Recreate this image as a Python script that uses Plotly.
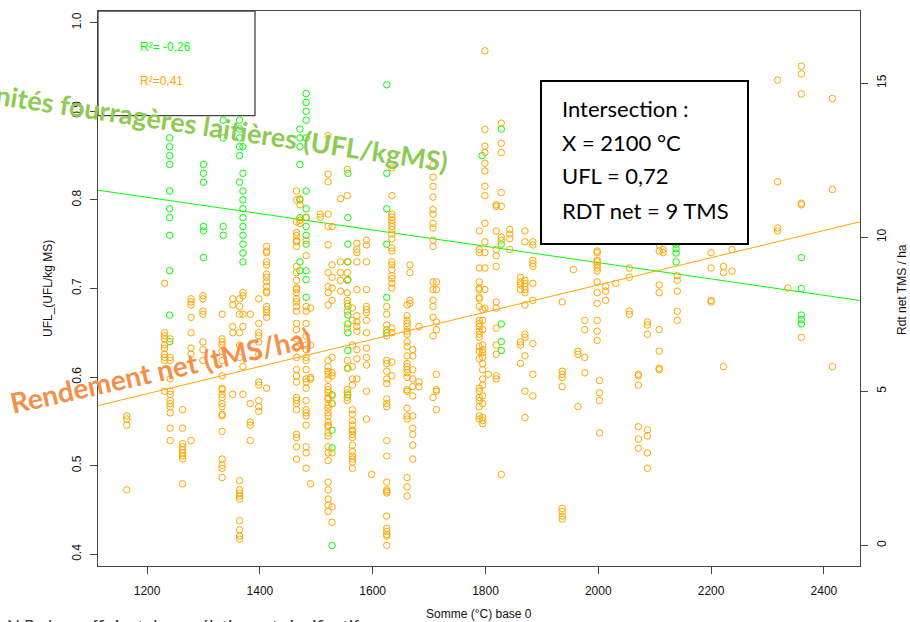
import plotly.graph_objects as go

# ---------------- DATA ----------------
# UFL (left axis, green): temperature-sum groups and the UFL values read in each group
ufl_x_groups = [1240, 1300, 1335, 1364, 1370, 1471, 1482, 1528, 1556, 1625, 1794, 1828, 2138, 2360]
ufl_groups = [
    [0.87, 0.86, 0.85, 0.84, 0.81, 0.79, 0.78, 0.76, 0.72, 0.67, 0.64],
    [0.84, 0.83, 0.82, 0.77, 0.765, 0.735],
    [0.89, 0.87, 0.77, 0.76],
    [0.89, 0.88, 0.87, 0.86, 0.85, 0.82],
    [0.86, 0.83, 0.81, 0.80, 0.79, 0.78, 0.77, 0.76, 0.75, 0.74, 0.73],
    [0.88, 0.87, 0.86, 0.84, 0.80, 0.78, 0.73, 0.72],
    [0.92, 0.91, 0.90, 0.89, 0.87, 0.81, 0.79, 0.78, 0.77, 0.76, 0.75, 0.72, 0.71, 0.69],
    [0.58, 0.57, 0.54, 0.52, 0.41],
    [0.83, 0.78, 0.75, 0.73, 0.71, 0.68, 0.67, 0.66, 0.65, 0.63, 0.61, 0.58],
    [0.93, 0.83, 0.79, 0.75, 0.69, 0.65],
    [0.85],
    [0.88, 0.75, 0.66, 0.64, 0.63],
    [0.75, 0.745, 0.74, 0.73],
    [0.735, 0.70, 0.67, 0.665, 0.66],
]

# Net yield (right axis, orange): temperature-sum groups and the yields (t MS/ha)
rdt_x_groups = [1164, 1231, 1241, 1263, 1278, 1299, 1333, 1352, 1364, 1370, 1383, 1398, 1412,
                1465, 1471, 1482, 1490, 1507, 1521, 1528, 1543, 1555, 1564, 1572, 1589, 1598,
                1625, 1634, 1661, 1666, 1671, 1682, 1707, 1713, 1789, 1795, 1799, 1805, 1819,
                1828, 1843, 1862, 1870, 1884, 1936, 1956, 1964, 1976, 1998, 2002, 2013, 2031,
                2055, 2071, 2087, 2108, 2115, 2140, 2200, 2222, 2237, 2318, 2336, 2360, 2415]
rdt_groups = [
    [4.2, 4.1, 3.9, 1.8],
    [8.5, 6.9, 6.8, 6.7, 6.5, 6.4, 6.2, 6.1, 6.0, 5.0],
    [6.7, 6.1, 6.0, 5.4, 5.0, 4.9, 4.7, 4.6, 4.5, 4.3, 3.8, 3.4],
    [4.4, 3.8, 3.3, 3.2, 3.1, 3.0, 2.9, 2.8, 2.0],
    [8.0, 7.9, 7.8, 7.4, 6.9, 6.4, 6.2, 3.4],
    [8.1, 8.0, 7.6, 7.5, 6.6, 6.35, 6.0],
    [7.5, 6.7, 6.6, 6.5, 6.3, 6.0, 5.5, 5.1, 5.05, 4.9, 4.8, 4.6, 4.5, 4.25, 4.2, 3.7, 2.8, 2.6, 2.5, 2.2],
    [8.0, 7.8, 7.1, 6.9, 4.9],
    [8.0, 7.75, 7.5, 6.9, 6.5, 6.1, 2.1, 1.8, 1.7, 1.6, 1.5, 0.8, 0.5, 0.3, 0.2],
    [8.2, 8.1, 7.5, 7.1, 5.8, 4.9],
    [7.5, 4.6, 4.0, 3.9, 3.4],
    [8.0, 7.2, 6.9, 6.8, 6.6, 6.2, 5.3, 5.2, 4.7, 4.5, 4.35],
    [9.7, 9.55, 9.5, 9.2, 9.1, 8.8, 8.7, 8.55, 8.4, 8.25, 8.2, 7.75, 7.65, 7.55, 7.4, 5.1],
    [11.5, 11.2, 10.5, 10.15, 10.05, 9.9, 9.85, 9.7, 9.05, 8.85, 8.6, 8.35, 8.3, 8.2, 8.0, 7.9,
     7.75, 7.6, 7.2, 7.0, 6.7, 6.4, 6.1, 5.7, 5.5, 5.3, 4.8, 4.7, 4.6, 4.4, 3.6, 3.5, 3.2, 2.8],
    [11.25, 11.05, 10.55, 10.45],
    [10.65, 9.9, 9.4, 7.75, 7.6, 7.2, 6.8, 6.5, 6.35, 6.1, 6.0, 5.7, 5.4, 5.3, 5.1, 4.7, 4.4,
     4.3, 4.2, 3.9, 3.2, 3.0, 2.5],
    [7.7, 6.5, 5.45, 5.4, 2.0],
    [10.75, 10.65],
    [13.3, 12.05, 11.8, 10.75, 10.35, 9.75, 8.85, 8.4, 8.2, 7.8, 6.0, 5.8, 5.65, 5.55, 5.4, 5.15,
     5.05, 4.95, 4.8, 4.75, 4.55, 4.45, 4.3, 4.2, 4.0, 3.9, 3.85, 3.65, 3.55, 3.2, 3.0, 2.75,
     2.05, 1.8, 1.5, 1.3, 1.1],
    [10.35, 9.1, 8.7, 8.35, 7.95, 6.1, 5.6, 5.5, 4.85, 4.6, 3.0, 1.25, 0.75],
    [11.25, 9.2, 8.85, 8.6, 8.25],
    [12.2, 11.35, 9.2, 8.85, 8.6, 8.2, 7.95, 7.85, 7.6, 7.05, 6.0, 5.75, 5.05, 4.95, 4.8, 4.7],
    [7.7, 7.3, 6.5, 5.8, 5.4, 5.2, 4.4, 4.25, 4.05, 3.9, 3.75, 3.7, 3.6, 3.5, 3.25, 3.05, 2.9,
     2.8, 2.7, 2.5],
    [9.8, 9.6, 9.5, 9.2, 8.3, 7.45, 7.25, 7.1, 6.95, 6.35, 6.05, 5.4],
    [9.9, 9.75, 9.2, 8.3, 7.75, 7.65, 7.55, 7.3, 6.9, 6.4, 6.1, 5.85, 5.0, 4.1],
    [2.3],
    [7.75, 7.5, 7.15, 7.0, 6.8, 6.0, 5.9, 5.65, 5.4, 5.25, 4.75, 4.6, 4.5, 3.4, 2.9, 2.05, 1.8,
     1.75, 1.7, 0.95, 0.55, 0.45, 0.35, 0.3, 0.0],
    [12.25, 11.35, 10.75, 10.65, 10.55, 10.45, 10.35, 10.25, 10.1, 9.95, 9.65, 9.55, 9.2, 9.1,
     8.95, 8.75, 8.65, 8.5, 8.35, 7.05, 6.9, 5.95, 5.5],
    [7.8, 7.45, 7.3, 7.2, 7.1, 6.95, 6.85, 6.6, 6.45, 6.15, 5.9, 5.8, 5.7, 5.6, 5.45, 5.05, 5.0,
     4.45, 4.2, 4.1, 2.2, 1.9, 1.6],
    [9.1, 8.85, 7.95, 7.85],
    [6.35, 6.15, 5.7, 5.4, 5.15, 4.85, 4.2, 3.8, 3.6, 3.25, 2.8],
    [7.1, 5.3, 5.15],
    [12.35, 11.95, 11.65, 11.3, 10.9, 10.75, 10.45, 10.3, 9.9, 9.7, 8.55, 8.3, 7.95, 7.75, 7.4,
     6.8, 4.8],
    [8.55, 8.3, 7.25, 7.0, 5.55, 5.05, 5.0, 4.4],
    [10.2, 9.6, 9.5, 9.0, 8.55, 8.35, 8.3, 8.05, 8.0, 7.75, 7.3, 7.2, 7.1, 6.95, 6.85, 6.75,
     6.45, 6.3, 6.05, 5.1, 5.0, 4.8, 4.7, 4.5, 4.2, 4.1],
    [7.65, 7.3, 7.0, 6.5, 6.35, 6.25, 6.1, 5.9, 5.7, 5.4, 5.2, 4.85, 4.6, 4.15, 4.05, 3.95],
    [16.05, 13.5, 12.95, 12.75, 12.4, 12.15, 11.65, 11.35, 10.45, 9.85, 9.5, 9.0, 8.3, 7.7],
    [5.55],
    [11.05, 11.0, 10.2, 9.6, 9.4, 9.05, 7.9, 7.7, 7.05, 6.5, 6.2, 5.5, 5.4],
    [13.7, 13.05, 12.75, 11.45, 11.0, 10.0, 9.9, 2.3],
    [10.25, 10.1, 9.95, 9.6],
    [8.7, 8.55, 8.45, 8.3, 6.6, 6.5, 5.9],
    [10.2, 9.85, 8.6, 8.5, 8.4, 8.3, 8.2, 7.8, 6.85, 6.75, 6.15, 5.0, 4.15],
    [9.85, 9.75, 9.25, 9.15, 9.05, 8.5, 7.95, 6.55, 5.55, 4.85],
    [7.9, 5.65, 5.55, 5.45, 5.15, 1.2, 1.1, 0.95, 0.85],
    [8.95],
    [6.3, 6.2, 4.5],
    [7.3, 7.0, 6.1, 5.6],
    [9.55, 9.5, 9.25, 9.2, 9.1, 9.0, 8.9, 8.55, 8.2, 7.85, 7.3, 6.95, 6.65],
    [5.35, 4.95, 4.7, 3.65],
    [8.4, 8.25, 7.95],
    [8.5],
    [9.0, 8.7, 7.6, 7.5],
    [5.55, 5.5, 5.2, 3.85, 3.45, 3.15],
    [7.25, 7.15, 6.85, 3.75, 3.55, 3.0, 2.5],
    [9.75, 9.55, 8.45, 8.2, 7.0, 6.3, 5.75, 5.7],
    [9.6, 9.5],
    [8.75, 8.6, 8.25, 7.6, 7.3],
    [9.5, 9.0, 7.95, 7.9],
    [9.05, 8.85, 5.8],
    [9.6, 8.9],
    [15.1, 11.8, 10.3, 10.2],
    [8.35],
    [15.55, 15.3, 14.65, 11.1, 11.05, 6.75],
    [14.5, 11.55, 5.8],
]

# regression lines (intercept, slope) read from the drawn fits
ufl_fit = [0.9135, -0.00009215]
rdt_fit = [-0.379, 0.004415]

x_ticks = [1200, 1400, 1600, 1800, 2000, 2200, 2400]
ufl_ticks = [0.4, 0.5, 0.6, 0.7, 0.8, 0.9, 1.0]
rdt_ticks = [0, 5, 10, 15]

x_range = [1113, 2464]
ufl_range = [0.3868, 1.0132]
rdt_range = [-0.67, 17.34]

# ---------------- FIGURE ----------------
GREEN = "#00FF00"
ORANGE = "#FFA500"

ufl_x = [x for x, g in zip(ufl_x_groups, ufl_groups) for _ in g]
ufl_y = [v for g in ufl_groups for v in g]
rdt_x = [x for x, g in zip(rdt_x_groups, rdt_groups) for _ in g]
rdt_y = [v for g in rdt_groups for v in g]

fig = go.Figure()
fig.add_trace(go.Scatter(x=rdt_x, y=rdt_y, mode="markers", yaxis="y2",
                         marker=dict(symbol="circle-open", size=6.5, color=ORANGE,
                                     line=dict(width=1, color=ORANGE)),
                         showlegend=False, hoverinfo="skip"))
fig.add_trace(go.Scatter(x=ufl_x, y=ufl_y, mode="markers", yaxis="y",
                         marker=dict(symbol="circle-open", size=6.5, color=GREEN,
                                     line=dict(width=1, color=GREEN)),
                         showlegend=False, hoverinfo="skip"))
fig.add_trace(go.Scatter(x=x_range, y=[ufl_fit[0] + ufl_fit[1] * x for x in x_range],
                         mode="lines", yaxis="y", line=dict(color=GREEN, width=1),
                         showlegend=False, hoverinfo="skip"))
fig.add_trace(go.Scatter(x=x_range, y=[rdt_fit[0] + rdt_fit[1] * x for x in x_range],
                         mode="lines", yaxis="y2", line=dict(color=ORANGE, width=1),
                         showlegend=False, hoverinfo="skip"))

W, H = 910, 622
L, R, T, B = 98, 50, 11, 56
PW, PH = W - L - R, H - T - B


def px(xp):
    return (xp - L) / PW


def py(yp):
    return (H - B - yp) / PH


axis_font = dict(family="Liberation Sans, Arial, sans-serif", size=12, color="#111")

fig.update_layout(
    width=W, height=H,
    margin=dict(l=L, r=R, t=T, b=B, autoexpand=False),
    paper_bgcolor="white", plot_bgcolor="white",
    xaxis=dict(range=x_range, tickvals=x_ticks, ticktext=[str(v) for v in x_ticks],
               showgrid=False, zeroline=False, showline=True, mirror=True,
               linecolor="#444", linewidth=1.3, ticks="outside", ticklen=7,
               tickcolor="#444", tickfont=axis_font, ticklabelstandoff=6),
    yaxis=dict(range=ufl_range, tickvals=ufl_ticks, ticktext=[f"{v:.1f}" for v in ufl_ticks],
               showgrid=False, zeroline=False, showline=True, mirror=True,
               linecolor="#444", linewidth=1.3, ticks="outside", ticklen=7,
               tickcolor="#444", tickfont=axis_font, tickangle=-90, ticklabelstandoff=4),
    yaxis2=dict(range=rdt_range, tickvals=rdt_ticks, ticktext=[str(v) for v in rdt_ticks],
                overlaying="y", side="right", showgrid=False, zeroline=False,
                showline=False, ticks="outside", ticklen=7, tickcolor="#444",
                tickfont=axis_font, tickangle=-90, ticklabelstandoff=4),
)

shapes = [
    # R² box (top left)
    dict(type="rect", xref="paper", yref="paper", x0=px(98), x1=px(255), y0=py(115.7), y1=py(11),
         line=dict(color="#444", width=1.3), fillcolor="rgba(0,0,0,0)", layer="above"),
    # intersection box
    dict(type="rect", xref="paper", yref="paper", x0=px(541), x1=px(748), y0=py(244), y1=py(81),
         line=dict(color="black", width=2), fillcolor="white", layer="above"),
]
fig.update_layout(shapes=shapes)

ann = []
# axis titles
ann.append(dict(text="Somme (°C) base 0", x=px(479), y=py(614), xref="paper", yref="paper",
                showarrow=False, font=axis_font, xanchor="center", yanchor="middle"))
ann.append(dict(text="UFL_(UFL/kg MS)", x=px(48), y=py(289), xref="paper", yref="paper",
                showarrow=False, font=axis_font, textangle=-90, xanchor="center", yanchor="middle"))
ann.append(dict(text="Rdt net TMS / ha", x=px(902), y=py(289), xref="paper", yref="paper",
                showarrow=False, font=axis_font, textangle=-90, xanchor="center", yanchor="middle"))
# R² labels
ann.append(dict(text="R²= -0,26", x=px(138), y=py(47), xref="paper", yref="paper",
                showarrow=False, xanchor="left", yanchor="middle",
                font=dict(family="Liberation Sans, Arial", size=12, color=GREEN)))
ann.append(dict(text="R²=0,41", x=px(138), y=py(81), xref="paper", yref="paper",
                showarrow=False, xanchor="left", yanchor="middle",
                font=dict(family="Liberation Sans, Arial", size=12, color=ORANGE)))
# intersection text
box_font = dict(family="Lato, Open Sans, sans-serif", size=22, color="black")
for i, line in enumerate(["Intersection :", "X = 2100 °C", "UFL = 0,72", "RDT net = 9 TMS"]):
    ann.append(dict(text=line, x=px(560), y=py(108 + 34 * i), xref="paper", yref="paper",
                    showarrow=False, xanchor="left", yanchor="middle", font=box_font))
# overlay labels
ann.append(dict(text="Unités fourragères laitières (UFL/kgMS)", x=px(212), y=py(127),
                xref="paper", yref="paper", showarrow=False, textangle=8.5,
                xanchor="center", yanchor="middle",
                font=dict(family="Lato, Open Sans, sans-serif", size=27, color="#8DCB52",
                          weight="bold")))
ann.append(dict(text="Rendement net (tMS/ha)", x=px(160), y=py(370),
                xref="paper", yref="paper", showarrow=False, textangle=-12.5,
                xanchor="center", yanchor="middle",
                font=dict(family="Lato, Open Sans, sans-serif", size=28, color="#F4904A",
                          weight="bold")))
# cut-off note at the bottom
ann.append(dict(text="N.B : le coefficient de corrélation est significatif", x=px(5), y=py(614),
                xref="paper", yref="paper", showarrow=False, xanchor="left", yanchor="top",
                font=dict(family="Lato, sans-serif", size=17, color="#333")))
fig.update_layout(annotations=ann)

fig.write_html("out.html", config={"displayModeBar": False},
               post_script="document.body.style.margin='0';document.body.style.padding='0';"
                           "document.body.style.overflow='hidden';")
